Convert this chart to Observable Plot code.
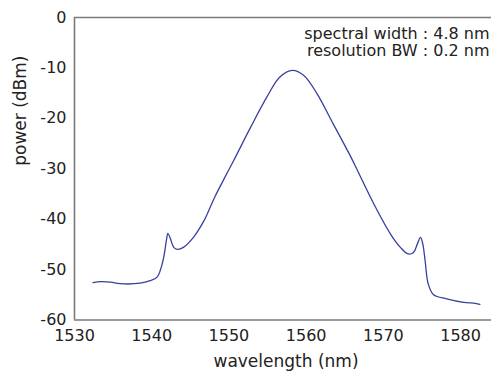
<!DOCTYPE html>
<html><head><meta charset="utf-8">
<script src="https://cdn.jsdelivr.net/npm/d3@7"></script>
<script src="https://cdn.jsdelivr.net/npm/@observablehq/plot@0.6"></script>
<style>
body{margin:0;background:#fff;}
</style></head><body><div id="chart"></div>
<script>
const wavelength = [1532.4, 1533.4, 1534.7, 1535.9, 1538.5, 1539.8, 1540.7, 1541.1, 1541.55, 1541.9, 1542.1, 1542.4, 1542.85, 1543.3, 1544.1, 1545.4, 1546.7, 1547.5, 1548.2, 1549.4, 1550.6, 1552.8, 1554.9, 1556.6, 1558.2, 1559.7, 1561.4, 1563.5, 1565.7, 1566.6, 1568.7, 1570.9, 1572.2, 1573.2, 1573.9, 1574.4, 1574.8, 1575.1, 1575.4, 1575.8, 1576.5, 1578.2, 1580.4, 1581.9, 1582.5];
const power = [-52.6, -52.4, -52.5, -52.8, -52.7, -52.2, -51.5, -50.2, -47.6, -44.2, -42.8, -43.8, -45.6, -46.0, -45.6, -43.6, -40.5, -37.9, -35.5, -31.9, -28.4, -21.8, -15.8, -11.8, -10.5, -11.5, -15.1, -21.1, -27.4, -30.2, -36.8, -42.9, -45.6, -46.9, -46.6, -44.9, -43.6, -44.9, -48.2, -52.8, -55.0, -55.8, -56.5, -56.7, -56.9];
const xTicks = [1530, 1540, 1550, 1560, 1570, 1580];
const yTicks = [0, -10, -20, -30, -40, -50, -60];
const xLabel = "wavelength (nm)";
const yLabel = "power (dBm)";
const annotations = ["spectral width : 4.8 nm", "resolution BW : 0.2 nm"];

const data = wavelength.map((w, i) => ({w, p: power[i]}));

const chart = Plot.plot({
  width: 492, height: 372,
  marginLeft: 74, marginRight: 1, marginTop: 17, marginBottom: 52.5,
  style: {fontFamily: "'DejaVu Sans', sans-serif", color: "#222", background: "#fff"},
  x: {domain: [1530, 1584]},
  y: {domain: [-60, 0]},
  marks: [
    Plot.axisX({ticks: xTicks, tickSize: 0, tickPadding: 10, fontSize: 16, label: null, tickFormat: d => String(d)}),
    Plot.axisY({ticks: yTicks, tickSize: 0, tickPadding: 8, fontSize: 16, label: null, tickFormat: d => String(d)}),
    Plot.ruleX([1530], {stroke: "#7a7a7a", strokeWidth: 1.6}),
    Plot.ruleY([0, -60], {stroke: "#7a7a7a", strokeWidth: 1.6}),
    Plot.line(data, {x: "w", y: "p", curve: "catmull-rom", stroke: "#38409e", strokeWidth: 1.3}),
    Plot.text([xLabel], {frameAnchor: "bottom", dy: 46.5, dx: 3, fontSize: 17, fill: "#222"}),
    Plot.text([yLabel], {frameAnchor: "left", rotate: -90, dx: -53.6, dy: -3, fontSize: 17, fill: "#222"}),
    Plot.text([annotations.join("\n")], {frameAnchor: "top-right", textAnchor: "end", lineAnchor: "top", lineHeight: 1.1, dy: 8.8, dx: -2, fontSize: 16, fill: "#222"})
  ]
});
document.getElementById("chart").appendChild(chart);
</script>
</body></html>
